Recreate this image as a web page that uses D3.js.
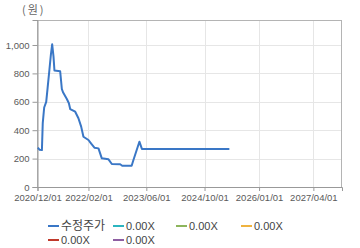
<!DOCTYPE html>
<html><head><meta charset="utf-8">
<script src="https://cdn.jsdelivr.net/npm/d3@7"></script>
<style>body{margin:0;background:#fff;}svg{display:block;font-family:"DejaVu Sans","Noto Sans CJK KR",sans-serif;}</style>
</head><body><svg id="c" width="360" height="248"></svg>
<script>
const dates = ["2020-12-04","2020-12-19","2021-01-07","2021-01-14","2021-01-26","2021-02-12","2021-02-24","2021-03-09","2021-03-23","2021-04-03","2021-04-14","2021-04-22","2021-06-09","2021-06-23","2021-07-04","2021-08-04","2021-08-21","2021-09-01","2021-10-13","2021-11-09","2021-12-02","2021-12-21","2022-02-01","2022-02-24","2022-03-23","2022-04-26","2022-05-24","2022-07-19","2022-08-16","2022-10-25","2022-11-11","2023-01-29","2023-02-13","2023-04-04","2023-04-25","2025-04-27"];
const prices = [277,262,260,450,560,600,700,810,930,1005,920,820,815,690,665,620,590,549,530,484,425,354,331,305,277,272,202,195,162,160,150,150,190,319,268,268];
const yTicks = [0,200,400,600,800,1000];
const xTicks = ["2020-12-01","2022-02-01","2023-06-01","2024-10-01","2026-01-01","2027-04-01"];
const legendNames = ["수정주가","0.00X","0.00X","0.00X","0.00X","0.00X"];
const legendColors = ["#3a77c6","#2cb5c0","#8db55c","#efb33f","#c0392b","#8e5ea2"];

const parse = d3.timeParse("%Y-%m-%d");
const fmt = d3.timeFormat("%Y/%m/%d");
const svg = d3.select("#c");
const L=37.5, R=342, T=20, B=187;
const x = d3.scaleTime().domain([parse("2020-12-01"), parse("2027-11-27")]).range([L,R]);
const y = d3.scaleLinear().domain([0,1176]).range([B,T]);

// grid
svg.append("g").selectAll("line").data(yTicks.slice(1)).join("line")
  .attr("x1",L).attr("x2",R).attr("y1",d=>Math.round(y(d))+0.5).attr("y2",d=>Math.round(y(d))+0.5)
  .attr("stroke","#e6e6e6");
svg.append("g").selectAll("line").data(xTicks.slice(1)).join("line")
  .attr("y1",T).attr("y2",B).attr("x1",d=>Math.round(x(parse(d)))+0.5).attr("x2",d=>Math.round(x(parse(d)))+0.5)
  .attr("stroke","#e6e6e6");
// border
svg.append("rect").attr("x",L).attr("y",T+0.5).attr("width",R-L-0.5).attr("height",B-T)
  .attr("fill","none").attr("stroke","#b4b4b4");

// axes
const ya = svg.append("g").attr("transform",`translate(${L},0)`)
  .call(d3.axisLeft(y).tickValues(yTicks).tickSize(5).tickPadding(3).tickFormat(d3.format(",")));
const xa = svg.append("g").attr("transform",`translate(0,${B})`)
  .call(d3.axisBottom(x).tickValues(xTicks.map(parse)).tickSize(4).tickPadding(3).tickFormat(fmt));
[ya,xa].forEach(a=>{
  a.selectAll("path").attr("stroke","#999");
  a.selectAll("line").attr("stroke","#999");
  a.selectAll("text").attr("fill","#5a5a5a").style("font-size","9.5px").style("font-family","Arial,'Liberation Sans',sans-serif");
});

svg.append("text").attr("x",22).attr("y",14).attr("fill","#666").style("font-size","11px")
  .style("letter-spacing","2px")
  .style("font-family","'Noto Sans CJK KR',sans-serif").text("(원)");

// line
const line = d3.line().x((d,i)=>x(parse(dates[i]))).y(d=>y(d)).curve(d3.curveLinear);
svg.append("path").datum(prices).attr("d",line).attr("fill","none")
  .attr("stroke",legendColors[0]).attr("stroke-width",2).attr("stroke-linejoin","round");

// legend
const legPos = [[48,226],[113,226],[176,226],[241,226],[48,240],[113,240]];
const lg = svg.append("g").selectAll("g").data(legendNames).join("g")
  .attr("transform",(d,i)=>`translate(${legPos[i][0]},${legPos[i][1]})`);
lg.append("line").attr("x1",0).attr("x2",11).attr("stroke",(d,i)=>legendColors[i]).attr("stroke-width",2);
lg.append("text").attr("x",13).attr("y",4).attr("fill","#444")
  .style("font-size",(d,i)=>i===0?"12px":"11px")
  .style("font-family",(d,i)=>i===0?"'Noto Sans CJK KR',sans-serif":"Arial,'Liberation Sans',sans-serif")
  .text(d=>d);
</script></body></html>
